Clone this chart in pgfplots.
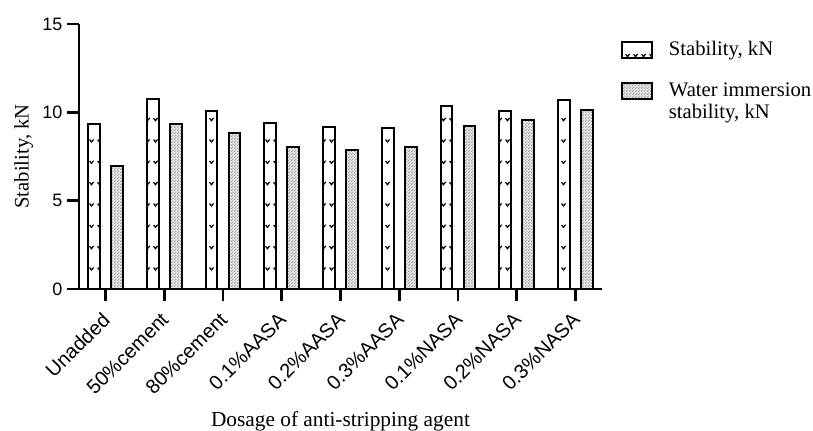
\documentclass[border=0pt]{standalone}
\usepackage{pgfplots}
\pgfplotsset{compat=1.18}
\usepackage{pgfplotstable}
\usepackage{fontspec}
\setmainfont{Liberation Serif}
\newfontfamily\arial{Liberation Sans}
\usetikzlibrary{patterns}

\pgfdeclarepatternformonly{finechecker}{\pgfpointorigin}{\pgfpoint{2.4pt}{2.4pt}}{\pgfpoint{2.4pt}{2.4pt}}{%
 \pgfpathrectangle{\pgfpointorigin}{\pgfpoint{1.2pt}{1.2pt}}%
 \pgfpathrectangle{\pgfpoint{1.2pt}{1.2pt}}{\pgfpoint{1.2pt}{1.2pt}}%
 \pgfusepath{fill}}
\pgfdeclarepatternformonly{vmarks}{\pgfpoint{-1pt}{-1pt}}{\pgfpoint{7pt}{17pt}}{\pgfpoint{6pt}{16pt}}{%
 \pgfsetlinewidth{0.9pt}%
 \pgfpathmoveto{\pgfpoint{1.2pt}{9.8pt}}\pgfpathlineto{\pgfpoint{2.6pt}{8pt}}\pgfpathlineto{\pgfpoint{4.2pt}{10pt}}%
 \pgfusepath{stroke}}

\pgfplotstableread{
x stab water
0 9.33 6.97
1 10.78 9.36
2 10.08 8.85
3 9.38 8.06
4 9.17 7.89
5 9.10 8.06
6 10.35 9.23
7 10.08 9.55
8 10.72 10.12
}\datatable

\begin{document}
\begin{tikzpicture}
\begin{axis}[
 scale only axis, width=392.25pt, height=198.75pt,
 ybar, bar width=0.2,
 xmin=-0.45, xmax=8.45, ymin=0, ymax=15,
 axis lines=left, axis line style={line width=2pt,-},
 xtick={0,...,8},
 xticklabels={Unadded,50\%cement,80\%cement,0.1\%AASA,0.2\%AASA,0.3\%AASA,0.1\%NASA,0.2\%NASA,0.3\%NASA},
 ytick={0,5,10,15},
 tick align=outside, major tick length=9pt, tick style={line width=2pt, black},
 minor tick num=0,
 yticklabel style={font=\arial\fontsize{13.5}{15}\selectfont},
 xticklabel style={font=\arial\fontsize{15}{17}\selectfont, xshift=-3.3pt, yshift=-2.7pt, rotate=45, anchor=north east},
 /pgf/number format/assume math mode=true,
 xlabel={Dosage of anti-stripping agent}, ylabel={Stability, kN},
 xlabel style={font=\fontsize{16}{18}\selectfont, at={(axis description cs:0.5,0)}, anchor=base, yshift=-102.75pt},
 ylabel style={font=\fontsize{15.5}{18}\selectfont},
 legend image code/.code={\draw[#1, line width=1.5pt] (0pt,-1pt) rectangle (22.5pt,11pt);},
 legend style={at={(1,1)}, anchor=north west, xshift=14pt, yshift=-12.75pt,
   draw=none, fill=none, inner sep=0pt, row sep=17pt, column sep=12pt,
   font=\fontsize{15.5}{16.5}\selectfont,
   nodes={inner sep=0pt}},
 legend cell align=left,
]
\addplot[draw=black, line width=1.5pt, preaction={fill=white}, pattern=vmarks, bar shift=-0.196]
  table[x=x, y=stab] {\datatable};
\addlegendentry{\smash{Stability, kN}}
\addplot[draw=black, line width=1.5pt, preaction={fill=white}, pattern=finechecker, pattern color=gray!85, bar shift=0.196]
  table[x=x, y=water] {\datatable};
\addlegendentry{\smash{\begin{tabular}[t]{@{}l@{}}Water immersion\\stability, kN\end{tabular}}}
\coordinate (sw) at (rel axis cs:0,0);
\end{axis}
\pgfresetboundingbox
\path ([shift={(-59.25pt,-105.75pt)}]sw) rectangle ++(609.75pt,322.5pt);
\end{tikzpicture}
\end{document}
